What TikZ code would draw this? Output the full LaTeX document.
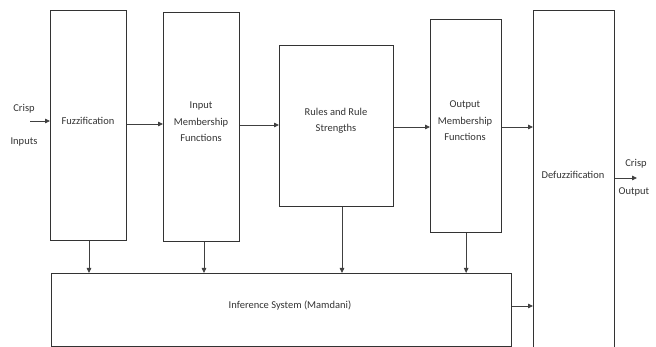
\documentclass[tikz,border=0pt]{standalone}
\usepackage{fontspec}
\setmainfont{Carlito}
\usetikzlibrary{arrows.meta}
\begin{document}
\begin{tikzpicture}[x=1pt,y=-1pt,
  blk/.style={draw=black!80,line width=1.3pt,fill=none,inner sep=0pt,anchor=north west},
  lbl/.style={font=\fontsize{10.5}{16.5}\selectfont,text=black!80,align=center,inner sep=0pt},
  conn/.style={draw=black!75,line width=0.8pt,-{Triangle[length=5pt,width=4.5pt]}}]
\useasboundingbox (0,0) rectangle (656,347);
% boxes
\node[blk,minimum width=76pt,minimum height=230pt] (fzb) at (50,10) {};
\node[blk,minimum width=76pt,minimum height=229pt] (imb) at (163,12) {};
\node[blk,minimum width=114pt,minimum height=161pt] (rub) at (279,45) {};
\node[blk,minimum width=71pt,minimum height=213pt] (omb) at (430,19) {};
\node[blk,minimum width=81pt,minimum height=350pt] (dfb) at (533,10) {};
\node[blk,minimum width=460pt,minimum height=73pt] (inb) at (51,273) {};
% labels
\node[lbl] (fz) at (88,121) {Fuzzification};
\node[lbl] (im) at (201,122) {Input\\Membership\\Functions};
\node[lbl] (ru) at (336,121) {Rules and Rule\\Strengths};
\node[lbl] (om) at (465,121) {Output\\Membership\\Functions};
\node[lbl] (df) at (573,175) {Defuzzification};
\node[lbl] (inf) at (290,306) {Inference System (Mamdani)};
\node[lbl] (ci1) at (24,109) {Crisp};
\node[lbl] (ci2) at (24,142) {Inputs};
\node[lbl] (co1) at (636,164) {Crisp};
\node[lbl] (co2) at (634,192) {Output};
% connectors
\coordinate (inS) at (30,121);
\coordinate (outE) at (637,178);
\draw[conn] (inS) -- (fzb.west |- inS);
\draw[conn] (fzb.east |- 0,124) -- (imb.west |- 0,124);
\draw[conn] (imb.east |- 0,125) -- (rub.west |- 0,125);
\draw[conn] (rub.east |- 0,127) -- (omb.west |- 0,127);
\draw[conn] (omb.east |- 0,127) -- (dfb.west |- 0,127);
\draw[conn] (dfb.east |- outE) -- (outE);
\draw[conn] (fzb.south -| 89,0) -- (inb.north -| 89,0);
\draw[conn] (imb.south -| 204,0) -- (inb.north -| 204,0);
\draw[conn] (rub.south -| 342,0) -- (inb.north -| 342,0);
\draw[conn] (omb.south) -- (inb.north -| omb.south);
\draw[conn] (inb.east |- 0,306) -- (dfb.west |- 0,306);
\end{tikzpicture}
\end{document}
